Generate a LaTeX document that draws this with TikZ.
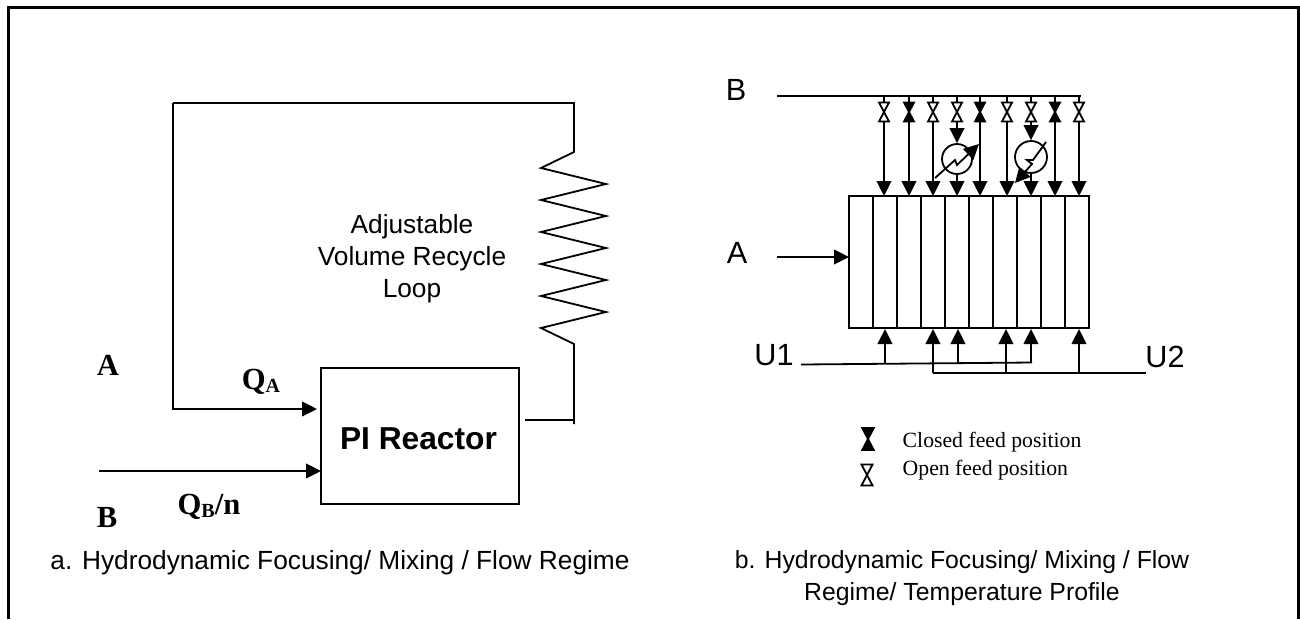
\documentclass[tikz,border=0pt]{standalone}
\usepackage{fontspec}
\setmainfont{Liberation Serif}
\setsansfont{Liberation Sans}
\usetikzlibrary{arrows.meta,positioning,calc}
\tikzset{
    line/.style={line width=1.35pt},
    arrow/.style={line, -{Triangle[length=11.25pt,width=11pt]}},
    sansbig/.style={font=\sffamily\fontsize{23}{27}\selectfont},
    sanstext/.style={font=\sffamily\fontsize{19.7}{24}\selectfont, align=center},
    captiontext/.style={font=\sffamily\fontsize{18.6}{24}\selectfont, align=center},
    serifbold/.style={font=\bfseries\fontsize{23}{27}\selectfont},
    legendtext/.style={font=\fontsize{16.3}{19}\selectfont, anchor=west},
    cell/.style={draw, line width=1.2pt, outer sep=0pt, minimum width=18pt, minimum height=99pt, inner sep=0pt},
    valveopen/.pic={\draw[line, fill=white] (-5,-9.5) -- (5,-9.5) -- (-5,9.5) -- (5,9.5) -- cycle;},
    valveclosed/.pic={\draw[line, fill=black] (-5,-9.5) -- (5,-9.5) -- (-5,9.5) -- (5,9.5) -- cycle;},
}
\newcommand{\lowsub}[1]{\raisebox{-2pt}{\fontsize{15}{17}\selectfont #1}}
\begin{document}
\begin{tikzpicture}[x=0.75pt,y=-0.75pt]
\useasboundingbox (0,0) rectangle (1300,619);
% outer frame
\draw[line width=2.2pt] (8.5,619) -- (8.5,7.5) -- (1298.5,7.5) -- (1298.5,619);

% left diagram
\node[draw, line, outer sep=0pt, minimum width=148.5pt, minimum height=102pt, inner sep=0pt] (reactor) at (420,436) {};
\node[font=\sffamily\bfseries\fontsize{23.8}{27}\selectfont, inner sep=0pt] (reactortext) at (418.5,439) {PI Reactor};
\coordinate (loopin) at (173,409);
\coordinate (feedB) at (99,471);
\coordinate (looptop) at (173,103);
\coordinate (coiltop) at (574,103);
\coordinate (coilbot) at (574,424);
\coordinate (outlet) at (525,420);
\draw[arrow] (looptop) -- (loopin) -- ($(reactor.west |- loopin)+(-4,0)$);
\draw[arrow] (feedB) -- (reactor.west |- feedB);
\draw[line] (looptop) -- (coiltop) -- (574,152) -- (541,168)
    -- (606,184) -- (541,200) -- (606,216) -- (541,232) -- (606,248)
    -- (541,264) -- (606,280) -- (541,296) -- (606,312) -- (541,328)
    -- (574,344) -- (coilbot);
\draw[line] (outlet) -- (outlet -| coilbot);

\node[sanstext] (looplabel) at (412,259) {Adjustable\\Volume Recycle\\Loop};
\node[serifbold] (labelA) at (108,365) {A};
\node[serifbold] (labelB) at (107,517) {B};
\node[serifbold] (labelQA) at (261,382) {Q\lowsub{A}};
\node[serifbold] (labelQB) at (209,507) {Q\lowsub{B}/n};
\node[sanstext] (captiona) at (340,563) {a. Hydrodynamic Focusing/ Mixing / Flow Regime};

% right diagram
\node[cell, anchor=north west] (c1) at (849,196) {};
\foreach \i/\j in {1/2,2/3,3/4,4/5,5/6,6/7,7/8,8/9,9/10}
    \node[cell, right=0pt of c\i] (c\j) {};

\coordinate (hdrstart) at (777,96);
\coordinate (hdrend) at (1081,96);
\draw[line] (hdrstart) -- (hdrend);
\node[sansbig] (labelBr) at (736,90) {B};
\node[sansbig] (labelAr) at (737,253) {A};
\node[sansbig] (labelU1) at (774,355) {U1};
\node[sansbig] (labelU2) at (1165,357) {U2};
\coordinate (feedAr) at (777,257);
\draw[arrow] (feedAr) -- (c1.west |- feedAr);

% feed valves
\foreach \x/\kind in {884/valveopen,909/valveclosed,933/valveopen,980/valveclosed,1007/valveopen,1055/valveclosed,1079/valveopen}{
    \coordinate (tap) at (\x,96);
    \coordinate (feed) at (\x,196);
    \draw[arrow] (tap) -- (feed);
    \pic at (\x,112) {\kind};
}
% cooled feeds
\foreach \x/\y/\r in {957/159/15,1031/157/16}{
    \coordinate (tap) at (\x,96);
    \node[draw, line, circle, minimum size=2*\r*0.75pt, inner sep=0pt] (hx\x) at (\x,\y) {};
    \draw[arrow] (tap) -- (hx\x.north);
    \draw[arrow] (hx\x.south) -- (\x,196);
    \pic at (\x,112) {valveopen};
}
\draw[arrow] (935,178) -- (955,160) -- (957,165) -- (979,144);
\draw[arrow] (1046,142) -- (1033,160) -- (1027,160) -- (1032,164) -- (1015,183);

% bottom feeds
\coordinate (U1start) at (801,364.5);
\coordinate (U1end) at (1032,362.5);
\coordinate (U2start) at (933,373);
\coordinate (U2end) at (1146,373);
\draw[line] (U1start) -- (U1end);
\draw[line] (U2start) -- (U2end);
\foreach \x/\y in {885/364,958/363.5,1031/362.5,933/373,1006/373,1079/373}{
    \coordinate (src) at (\x,\y);
    \coordinate (dst) at (\x,329);
    \draw[arrow] (src) -- (dst);
}

% legend
\pic[scale=1.15] at (868,439) {valveclosed};
\pic[scale=1.1] at (867,475) {valveopen};
\node[legendtext] (legclosed) at (898,442) {Closed feed position};
\node[legendtext] (legopen) at (898,470) {Open feed position};

\node[captiontext] (captionb) at (962,578) {b. Hydrodynamic Focusing/ Mixing / Flow\\Regime/ Temperature Profile};
\end{tikzpicture}
\end{document}
